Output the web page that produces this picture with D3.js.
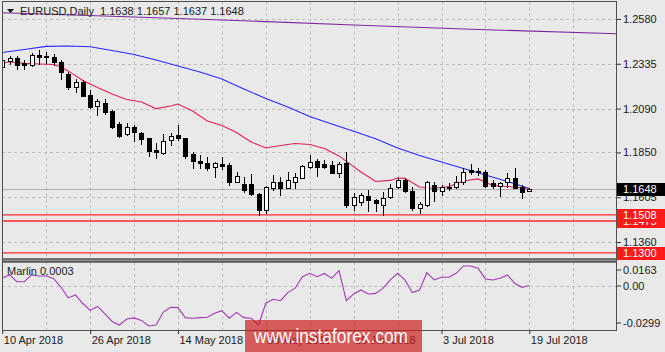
<!DOCTYPE html>
<html>
<head>
<meta charset="utf-8">
<script src="https://cdn.jsdelivr.net/npm/d3@7"></script>
<style>
  html, body { margin: 0; padding: 0; background: #e9e9e9; }
  svg { display: block; font-family: "Liberation Sans", Arial, sans-serif; }
</style>
</head>
<body>
<div id="chart"></div>
<script>
// EURUSD Daily - candlesticks, moving averages and Marlin oscillator

// date axis: labels sit every 12 bars
const dateTickIndex = [0, 12, 24, 36, 48, 60, 72];
const dateLabels = ['10 Apr 2018', '26 Apr 2018', '14 May 2018', '30 May 2018', '15 Jun 2018', '3 Jul 2018', '19 Jul 2018'];

// price axis
const priceTicks = [1.2580, 1.2335, 1.2090, 1.1850, 1.1605, 1.1360];
const indicatorTicks = [0.0163, 0, -0.0299];
const indicatorTickLabels = ['0.0163', '0.00', '-0.0299'];

// daily bars (10 Apr .. 19 Jul 2018)
const opens = [1.2318, 1.2351, 1.2365, 1.2337, 1.2330, 1.2383, 1.2378, 1.2374, 1.2346, 1.2277,
  1.2206, 1.2237, 1.2164, 1.2104, 1.2122, 1.2078, 1.2006, 1.1951, 1.1991, 1.1955,
  1.1927, 1.1863, 1.1845, 1.1918, 1.1945, 1.1928, 1.1840, 1.1805, 1.1794, 1.1769,
  1.1789, 1.1781, 1.1690, 1.1678, 1.1680, 1.1625, 1.1533, 1.1654, 1.1690, 1.1658,
  1.1690, 1.1712, 1.1772, 1.1804, 1.1786, 1.1781, 1.1736, 1.1791, 1.1562, 1.1580,
  1.1612, 1.1590, 1.1562, 1.1605, 1.1659, 1.1699, 1.1640, 1.1547, 1.1562, 1.1672,
  1.1640, 1.1657, 1.1660, 1.1690, 1.1754, 1.1749, 1.1745, 1.1681, 1.1668, 1.1687,
  1.1712, 1.1663, 1.1638];
const highs = [1.2362, 1.2378, 1.2378, 1.2356, 1.2392, 1.2410, 1.2401, 1.2389, 1.2356, 1.2292,
  1.2250, 1.2246, 1.2192, 1.2141, 1.2141, 1.2082, 1.2018, 1.2010, 1.2000, 1.1964,
  1.1931, 1.1900, 1.1949, 1.1955, 1.2000, 1.1931, 1.1851, 1.1836, 1.1823, 1.1795,
  1.1827, 1.1791, 1.1742, 1.1718, 1.1730, 1.1630, 1.1667, 1.1727, 1.1718, 1.1745,
  1.1736, 1.1781, 1.1836, 1.1813, 1.1808, 1.1805, 1.1800, 1.1854, 1.1627, 1.1627,
  1.1645, 1.1594, 1.1636, 1.1678, 1.1712, 1.1708, 1.1663, 1.1581, 1.1694, 1.1690,
  1.1672, 1.1681, 1.1723, 1.1767, 1.1785, 1.1767, 1.1754, 1.1699, 1.1690, 1.1736,
  1.1763, 1.1672, 1.1657];
const lows = [1.2300, 1.2334, 1.2306, 1.2306, 1.2325, 1.2334, 1.2341, 1.2328, 1.2250, 1.2195,
  1.2182, 1.2159, 1.2091, 1.2055, 1.2060, 1.1982, 1.1937, 1.1945, 1.1913, 1.1895,
  1.1833, 1.1822, 1.1841, 1.1891, 1.1918, 1.1818, 1.1763, 1.1763, 1.1754, 1.1718,
  1.1760, 1.1672, 1.1687, 1.1636, 1.1617, 1.1505, 1.1519, 1.1645, 1.1617, 1.1654,
  1.1654, 1.1709, 1.1763, 1.1723, 1.1763, 1.1736, 1.1718, 1.1553, 1.1535, 1.1562,
  1.1527, 1.1532, 1.1508, 1.1600, 1.1654, 1.1636, 1.1535, 1.1517, 1.1559, 1.1585,
  1.1617, 1.1645, 1.1654, 1.1676, 1.1730, 1.1727, 1.1663, 1.1654, 1.1613, 1.1663,
  1.1654, 1.1600, 1.1637];
const closes = [1.2355, 1.2365, 1.2328, 1.2330, 1.2383, 1.2374, 1.2372, 1.2346, 1.2292, 1.2206,
  1.2234, 1.2161, 1.2100, 1.2132, 1.2073, 1.1988, 1.1940, 1.1988, 1.1960, 1.1923,
  1.1860, 1.1851, 1.1914, 1.1940, 1.1928, 1.1828, 1.1803, 1.1791, 1.1767, 1.1791,
  1.1778, 1.1690, 1.1722, 1.1645, 1.1620, 1.1535, 1.1663, 1.1690, 1.1658, 1.1699,
  1.1717, 1.1776, 1.1800, 1.1772, 1.1772, 1.1740, 1.1787, 1.1562, 1.1605, 1.1617,
  1.1588, 1.1572, 1.1600, 1.1654, 1.1699, 1.1640, 1.1545, 1.1569, 1.1690, 1.1640,
  1.1660, 1.1663, 1.1690, 1.1745, 1.1742, 1.1742, 1.1668, 1.1668, 1.1681, 1.1709,
  1.1658, 1.1636, 1.1648];

// moving averages: [bar index, price]
const blueMA = [[0, 1.2397], [3, 1.2413], [6, 1.2430], [9, 1.2432], [12, 1.2428], [15, 1.2408],
  [18, 1.2386], [21, 1.2356], [24, 1.2323], [27, 1.2290], [30, 1.2252], [33, 1.2197],
  [36, 1.2145], [39, 1.2099], [42, 1.2047], [45, 1.2006], [48, 1.1966], [51, 1.1925],
  [54, 1.1874], [57, 1.1833], [60, 1.1798], [63, 1.1762], [66, 1.1727], [69, 1.1691], [72, 1.1653]];
const redMA = [[0, 1.2338], [1, 1.2346], [3, 1.2337], [5, 1.2334], [7, 1.2331], [8, 1.2317],
  [9, 1.2296], [11, 1.2244], [13, 1.2205], [15, 1.2170], [17, 1.2140], [19, 1.2126],
  [21, 1.2090], [23, 1.2104], [24, 1.2115], [26, 1.2077], [28, 1.2022], [30, 1.1997],
  [32, 1.1959], [34, 1.1907], [36, 1.1874], [38, 1.1888], [40, 1.1899], [42, 1.1893],
  [44, 1.1872], [46, 1.1831], [47, 1.1801], [49, 1.1743], [51, 1.1691], [53, 1.1697],
  [54, 1.1710], [55, 1.1708], [57, 1.1661], [59, 1.1654], [61, 1.1664], [63, 1.1694],
  [65, 1.1705], [67, 1.1669], [69, 1.1664], [72, 1.1653]];
const purpleMA = [[0, 1.2614], [16, 1.2594], [32, 1.2572], [48, 1.2547], [64, 1.2524], [84, 1.2499]];

// Marlin oscillator, one value per bar
const marlin = [0.0054, 0.0075, 0.0029, 0.0029, 0.0075, 0.0068, 0.0068, 0.0051, -0.0007, -0.0081,
  -0.0061, -0.0119, -0.0166, -0.0139, -0.0187, -0.0241, -0.0265, -0.0224, -0.0217, -0.0234,
  -0.0272, -0.0265, -0.0177, -0.0145, -0.0147, -0.0215, -0.0219, -0.0215, -0.0212, -0.0185,
  -0.0168, -0.0219, -0.0179, -0.0215, -0.0219, -0.0265, -0.0117, -0.0090, -0.0100, -0.0045,
  -0.0015, 0.0063, 0.0086, 0.0063, 0.0085, 0.0052, 0.0104, -0.0100, -0.0054, -0.0027,
  -0.0054, -0.0050, -0.0016, 0.0041, 0.0086, 0.0041, -0.0045, -0.0027, 0.0090, 0.0041,
  0.0059, 0.0059, 0.0086, 0.0136, 0.0136, 0.0120, 0.0048, 0.0041, 0.0052, 0.0075,
  0.0018, -0.0009, 0.0003];

// horizontal levels
const bidPrice = 1.1648;
const levels = [1.1475, 1.1508, 1.1300];

// --- layout
const totalWidth = 665, totalHeight = 352;
const plotLeft = 2, plotRight = 617;
const mainTop = 1.5, mainBottom = 259;
const indTop = 262, indBottom = 330;
const font = 11;

const svg = d3.select('#chart').append('svg')
  .attr('width', totalWidth)
  .attr('height', totalHeight);

svg.append('rect').attr('width', totalWidth).attr('height', totalHeight).attr('fill', '#e9e9e9');

// scales
const x = d3.scaleLinear().domain([0, 84]).range([2.3, 617.2]);
const y = d3.scaleLinear().domain([1.1360, 1.2580]).range([242, 19]);
const yi = d3.scaleLinear().domain([-0.0299, 0.0163]).range([indBottom, indTop]);

const defs = svg.append('defs');
defs.append('clipPath').attr('id', 'clip-main').append('rect')
  .attr('x', plotLeft).attr('y', mainTop).attr('width', plotRight - plotLeft).attr('height', mainBottom - mainTop);
defs.append('clipPath').attr('id', 'clip-ind').append('rect')
  .attr('x', plotLeft).attr('y', indTop).attr('width', plotRight - plotLeft).attr('height', indBottom - indTop);

const gridColor = '#bdbdbd';

// vertical grid every 6 bars, both panels
const gridIdx = d3.range(6, 84, 6);
[[mainTop, mainBottom], [indTop, indBottom]].forEach(([t, b]) => {
  svg.append('g').selectAll('line').data(gridIdx).enter().append('line')
    .attr('x1', d => Math.round(x(d)) + 0.5).attr('x2', d => Math.round(x(d)) + 0.5)
    .attr('y1', t).attr('y2', b)
    .attr('stroke', gridColor).attr('stroke-dasharray', '3,3');
});

// horizontal grid
svg.append('g').selectAll('line').data(priceTicks).enter().append('line')
  .attr('x1', plotLeft).attr('x2', plotRight)
  .attr('y1', d => Math.round(y(d)) + 0.5).attr('y2', d => Math.round(y(d)) + 0.5)
  .attr('stroke', gridColor).attr('stroke-dasharray', '3,3');
svg.append('line')
  .attr('x1', plotLeft).attr('x2', plotRight)
  .attr('y1', Math.round(yi(0)) + 0.5).attr('y2', Math.round(yi(0)) + 0.5)
  .attr('stroke', gridColor).attr('stroke-dasharray', '3,3');

// main panel content
const main = svg.append('g').attr('clip-path', 'url(#clip-main)');

// bid line
main.append('line')
  .attr('x1', plotLeft).attr('x2', plotRight)
  .attr('y1', Math.round(y(bidPrice)) + 0.5).attr('y2', Math.round(y(bidPrice)) + 0.5)
  .attr('stroke', '#b0b0b0');

// level lines
main.selectAll('.level').data(levels).enter().append('line')
  .attr('class', 'level')
  .attr('x1', plotLeft).attr('x2', plotRight)
  .attr('y1', d => y(d)).attr('y2', d => y(d))
  .attr('stroke', '#ff2a2a').attr('stroke-width', 1.3);

// moving averages
const maLine = d3.line().x(d => x(d[0])).y(d => y(d[1]));
main.append('path').datum(purpleMA).attr('d', maLine)
  .attr('fill', 'none').attr('stroke', '#7a2a9e').attr('stroke-width', 1.1);
main.append('path').datum(blueMA).attr('d', maLine)
  .attr('fill', 'none').attr('stroke', '#2a2aff').attr('stroke-width', 1.1);
main.append('path').datum(redMA).attr('d', maLine)
  .attr('fill', 'none').attr('stroke', '#e3224f').attr('stroke-width', 1.1);

// candles
const bars = d3.range(opens.length);
const candles = main.append('g').attr('shape-rendering', 'crispEdges');
candles.selectAll('.wick').data(bars).enter().append('line')
  .attr('class', 'wick')
  .attr('x1', i => Math.round(x(i)) + 0.5).attr('x2', i => Math.round(x(i)) + 0.5)
  .attr('y1', i => Math.round(y(highs[i]))).attr('y2', i => Math.round(y(lows[i])) + 1)
  .attr('stroke', '#000');
candles.selectAll('.body').data(bars).enter().append('rect')
  .attr('class', 'body')
  .attr('x', i => Math.round(x(i)) - 2 + 0.5)
  .attr('width', 4)
  .attr('y', i => Math.round(y(Math.max(opens[i], closes[i]))) + 0.5)
  .attr('height', i => Math.max(1, Math.round(y(Math.min(opens[i], closes[i]))) - Math.round(y(Math.max(opens[i], closes[i])))))
  .attr('fill', i => closes[i] >= opens[i] ? '#fff' : '#000')
  .attr('stroke', '#000');

// indicator panel
const ind = svg.append('g').attr('clip-path', 'url(#clip-ind)');
ind.append('path').datum(marlin)
  .attr('d', d3.line().x((d, i) => x(i)).y(d => yi(d)))
  .attr('fill', 'none').attr('stroke', '#a43ab6').attr('stroke-width', 1.1);

// frames
svg.append('rect')
  .attr('x', plotLeft + 0.5).attr('y', mainTop).attr('width', plotRight - plotLeft - 1).attr('height', mainBottom - mainTop)
  .attr('fill', 'none').attr('stroke', '#505050');
svg.append('rect')
  .attr('x', plotLeft + 0.5).attr('y', mainBottom).attr('width', plotRight - plotLeft - 1).attr('height', indTop - mainBottom)
  .attr('fill', '#8c8c8c').attr('stroke', '#505050');
svg.append('rect')
  .attr('x', plotLeft + 0.5).attr('y', indTop).attr('width', plotRight - plotLeft - 1).attr('height', indBottom - indTop + 0.5)
  .attr('fill', 'none').attr('stroke', '#505050');

// price axis
const priceAxis = svg.append('g')
  .attr('transform', `translate(${plotRight},0)`)
  .call(d3.axisRight(y).tickValues(priceTicks).tickFormat(d3.format('.4f')).tickSize(4).tickPadding(2));
priceAxis.select('.domain').remove();
priceAxis.selectAll('line').attr('stroke', '#333');
priceAxis.selectAll('text').attr('fill', '#1a1a1a').style('font-size', font + 'px')
  .style('font-family', '"Liberation Sans", Arial, sans-serif');

// indicator axis (edge labels stay inside the panel)
const indAxis = svg.append('g')
  .attr('transform', `translate(${plotRight},0)`)
  .call(d3.axisRight(yi).tickValues(indicatorTicks)
    .tickFormat((d, i) => indicatorTickLabels[i]).tickSize(4).tickPadding(2));
indAxis.select('.domain').remove();
indAxis.selectAll('.tick')
  .attr('transform', d => `translate(0,${Math.min(Math.max(yi(d), indTop + 8), indBottom - 7)})`);
indAxis.selectAll('line').attr('stroke', '#333');
indAxis.selectAll('text').attr('fill', '#1a1a1a').style('font-size', font + 'px')
  .style('font-family', '"Liberation Sans", Arial, sans-serif');

// date axis
const dateAxis = svg.append('g')
  .attr('transform', `translate(0,${indBottom})`)
  .call(d3.axisBottom(x).tickValues(dateTickIndex)
    .tickFormat((d, i) => dateLabels[i]).tickSize(4).tickPadding(2));
dateAxis.select('.domain').remove();
dateAxis.selectAll('line').attr('stroke', '#333');
dateAxis.selectAll('text').attr('fill', '#1a1a1a').attr('text-anchor', 'start').attr('x', 1)
  .style('font-size', font + 'px').style('font-family', '"Liberation Sans", Arial, sans-serif');

// price boxes on the axis
function priceBox(v, bg) {
  const cy = Math.round(y(v));
  svg.append('rect').attr('x', plotRight).attr('y', cy - 6).attr('width', totalWidth - plotRight).attr('height', 13)
    .attr('fill', bg);
  svg.append('text').attr('x', plotRight + 6).attr('y', cy).attr('dy', '0.35em')
    .attr('fill', '#fff').style('font-size', font + 'px').text(d3.format('.4f')(v));
}
levels.forEach(v => priceBox(v, '#ff1a1a'));
priceBox(bidPrice, '#000');

// title
svg.append('path').attr('d', 'M7,9 L14,9 L10.5,13 Z').attr('fill', '#111');
svg.append('text').attr('x', 20).attr('y', 15).attr('fill', '#1a1a1a').style('font-size', font + 'px')
  .attr('xml:space', 'preserve')
  .text('EURUSD,Daily  ' + [opens[72], highs[72], lows[72], closes[72]].map(d3.format('.4f')).join(' '));

// indicator label
svg.append('text').attr('x', 7).attr('y', 275).attr('fill', '#1a1a1a').style('font-size', font + 'px')
  .text('Marlin ' + marlin[marlin.length - 1].toFixed(4));

// watermark
svg.append('rect').attr('x', 245).attr('y', 320).attr('width', 177).attr('height', 32)
  .attr('fill', 'rgba(205,30,30,0.7)');
svg.append('text').attr('x', 254).attr('y', 343).attr('fill', '#fff')
  .style('font-size', '21px').attr('textLength', 154).attr('lengthAdjust', 'spacingAndGlyphs')
  .text('www.instaforex.com');
</script>
</body>
</html>
